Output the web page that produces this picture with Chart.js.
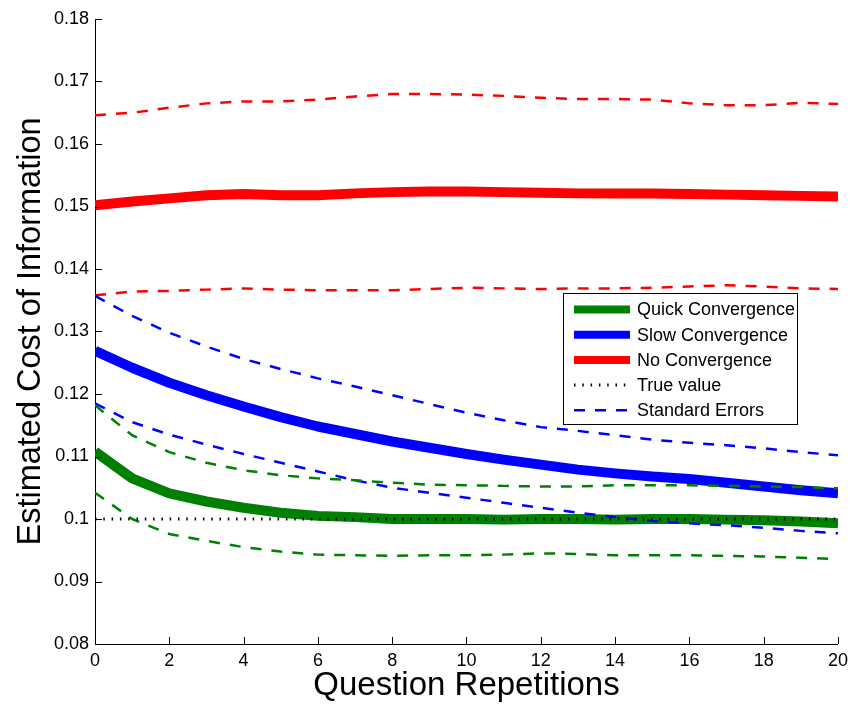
<!DOCTYPE html>
<html>
<head>
<meta charset="utf-8">
<title>Estimated Cost of Information</title>
<script src="https://cdn.jsdelivr.net/npm/chart.js@4/dist/chart.umd.min.js"></script>
<style>
  html, body { margin: 0; padding: 0; background: #ffffff; }
  #wrap { width: 854px; height: 704px; }
</style>
</head>
<body>
<div id="wrap"><canvas id="costChart" width="854" height="704"></canvas></div>
<script>
// 數據
const repetitions = [0, 1, 2, 3, 4, 5, 6, 7, 8, 9, 10, 11, 12, 13, 14, 15, 16, 17, 18, 19, 20];

const quickMean  = [0.1108, 0.1065, 0.1041, 0.1028, 0.1018, 0.1010, 0.1005, 0.1003, 0.1000, 0.1000, 0.1000, 0.0999, 0.1000, 0.1000, 0.0999, 0.1000, 0.1000, 0.0999, 0.0998, 0.0996, 0.0993];
const quickUpper = [0.1182, 0.1134, 0.1107, 0.1090, 0.1078, 0.1070, 0.1065, 0.1062, 0.1058, 0.1055, 0.1054, 0.1053, 0.1052, 0.1052, 0.1054, 0.1054, 0.1054, 0.1053, 0.1052, 0.1051, 0.1049];
const quickLower = [0.1042, 0.1000, 0.0976, 0.0965, 0.0955, 0.0948, 0.0943, 0.0942, 0.0941, 0.0942, 0.0942, 0.0943, 0.0945, 0.0944, 0.0942, 0.0942, 0.0942, 0.0941, 0.0940, 0.0938, 0.0936];

const slowMean  = [0.1269, 0.1242, 0.1218, 0.1198, 0.1180, 0.1163, 0.1148, 0.1136, 0.1124, 0.1114, 0.1104, 0.1095, 0.1087, 0.1079, 0.1073, 0.1068, 0.1064, 0.1058, 0.1052, 0.1046, 0.1041];
const slowUpper = [0.1357, 0.1325, 0.1298, 0.1276, 0.1256, 0.1240, 0.1225, 0.1212, 0.1198, 0.1184, 0.1170, 0.1158, 0.1147, 0.1141, 0.1134, 0.1127, 0.1122, 0.1118, 0.1113, 0.1107, 0.1102];
const slowLower = [0.1185, 0.1155, 0.1135, 0.1119, 0.1104, 0.1090, 0.1076, 0.1062, 0.1050, 0.1042, 0.1034, 0.1026, 0.1018, 0.1010, 0.1003, 0.0997, 0.0993, 0.0990, 0.0986, 0.0981, 0.0977];

const noneMean  = [0.1502, 0.1508, 0.1513, 0.1518, 0.1520, 0.1518, 0.1518, 0.1521, 0.1523, 0.1524, 0.1524, 0.1523, 0.1522, 0.1521, 0.1521, 0.1521, 0.1520, 0.1519, 0.1518, 0.1517, 0.1516];
const noneUpper = [0.1646, 0.1650, 0.1658, 0.1665, 0.1668, 0.1668, 0.1671, 0.1676, 0.1680, 0.1680, 0.1679, 0.1677, 0.1674, 0.1672, 0.1672, 0.1671, 0.1665, 0.1662, 0.1662, 0.1666, 0.1664];
const noneLower = [0.1358, 0.1364, 0.1365, 0.1367, 0.1369, 0.1367, 0.1366, 0.1366, 0.1366, 0.1368, 0.1370, 0.1369, 0.1368, 0.1369, 0.1369, 0.1370, 0.1372, 0.1374, 0.1372, 0.1369, 0.1368];

// 真實值 (水平線的兩個端點)
const trueValueX = [0, 20];
const trueValueY = [0.1, 0.1];

// 刻度
const xTickValues = [0, 2, 4, 6, 8, 10, 12, 14, 16, 18, 20];
const xTickLabels = ['0', '2', '4', '6', '8', '10', '12', '14', '16', '18', '20'];
const yTickValues = [0.08, 0.09, 0.10, 0.11, 0.12, 0.13, 0.14, 0.15, 0.16, 0.17, 0.18];
const yTickLabels = ['0.08', '0.09', '0.1', '0.11', '0.12', '0.13', '0.14', '0.15', '0.16', '0.17', '0.18'];

const FONT = "'Liberation Sans', Arial, Helvetica, sans-serif";
const GREEN = '#008000';
const BLUE = '#0000ff';
const RED = '#ff0000';
const SE_DASH = [11, 10];

function toPoints(xs, ys) {
    return ys.map((y, i) => ({ x: xs[i], y: y }));
}

function makeLine(label, xs, ys, color, width, dash, order) {
    return {
        label: label,
        data: toPoints(xs, ys),
        borderColor: color,
        backgroundColor: color,
        borderWidth: width,
        borderDash: dash,
        borderCapStyle: 'butt',
        borderJoinStyle: 'round',
        pointRadius: 0,
        pointHoverRadius: 0,
        fill: false,
        tension: 0,
        order: order
    };
}

const datasets = [
    makeLine('Quick Convergence', repetitions, quickMean, GREEN, 10, [], 10),
    makeLine('Slow Convergence', repetitions, slowMean, BLUE, 10, [], 10),
    makeLine('No Convergence', repetitions, noneMean, RED, 10, [], 10),
    makeLine('True value', trueValueX, trueValueY, '#000000', 3, [1.5, 6.8], 1),
    makeLine('Standard Errors', repetitions, slowUpper, BLUE, 2.5, SE_DASH, 5),
    makeLine('', repetitions, slowLower, BLUE, 2.5, SE_DASH, 5),
    makeLine('', repetitions, quickUpper, GREEN, 2.5, SE_DASH, 4),
    makeLine('', repetitions, quickLower, GREEN, 2.5, SE_DASH, 4),
    makeLine('', repetitions, noneUpper, RED, 2.5, SE_DASH, 5),
    makeLine('', repetitions, noneLower, RED, 2.5, SE_DASH, 5)
];

// 向內的刻度線
const inwardTicks = {
    id: 'inwardTicks',
    afterDatasetsDraw(chart) {
        const { ctx, chartArea, scales } = chart;
        ctx.save();
        ctx.strokeStyle = '#000000';
        ctx.lineWidth = 1;
        ctx.setLineDash([]);
        ctx.beginPath();
        scales.y.ticks.forEach(t => {
            const py = Math.round(scales.y.getPixelForValue(t.value)) + 0.5;
            ctx.moveTo(chartArea.left, py);
            ctx.lineTo(chartArea.left + 7, py);
        });
        scales.x.ticks.forEach(t => {
            const px = Math.round(scales.x.getPixelForValue(t.value)) + 0.5;
            ctx.moveTo(px, chartArea.bottom);
            ctx.lineTo(px, chartArea.bottom - 7);
        });
        ctx.stroke();
        ctx.restore();
    }
};

// 圖例 (畫在圖表區域內)
const boxLegend = {
    id: 'boxLegend',
    afterDraw(chart) {
        const ctx = chart.ctx;
        const shown = chart.data.datasets.filter(d => d.label);
        const box = { x: 563.5, y: 293.5, w: 234, h: 131 };
        ctx.save();
        ctx.fillStyle = '#ffffff';
        ctx.fillRect(box.x, box.y, box.w, box.h);
        ctx.strokeStyle = '#000000';
        ctx.lineWidth = 1;
        ctx.setLineDash([]);
        ctx.strokeRect(box.x, box.y, box.w, box.h);
        ctx.font = '18px ' + FONT;
        ctx.textBaseline = 'middle';
        ctx.textAlign = 'left';
        shown.forEach((d, i) => {
            const rowY = 309.5 + i * 25.2;
            ctx.beginPath();
            ctx.strokeStyle = d.borderColor;
            ctx.lineWidth = d.borderWidth >= 10 ? 8 : d.borderWidth;
            ctx.setLineDash(d.borderDash || []);
            ctx.lineCap = 'butt';
            ctx.moveTo(574, rowY);
            ctx.lineTo(630, rowY);
            ctx.stroke();
            ctx.setLineDash([]);
            ctx.fillStyle = '#000000';
            ctx.fillText(d.label, 637, rowY + 1);
        });
        ctx.restore();
    }
};

Chart.defaults.font.family = FONT;
Chart.defaults.color = '#000000';

new Chart(document.getElementById('costChart'), {
    type: 'line',
    data: { datasets: datasets },
    plugins: [inwardTicks, boxLegend],
    options: {
        responsive: false,
        animation: false,
        events: [],
        layout: { padding: { top: 19, right: 16, bottom: 0, left: 0 } },
        plugins: {
            legend: { display: false },
            tooltip: { enabled: false }
        },
        scales: {
            x: {
                type: 'linear',
                min: 0,
                max: 20,
                offset: false,
                afterBuildTicks: scale => {
                    scale.ticks = xTickValues.map(v => ({ value: v }));
                },
                afterFit: scale => { scale.height = 60; },
                ticks: {
                    padding: 6,
                    maxRotation: 0,
                    autoSkip: false,
                    font: { size: 18 },
                    callback: value => xTickLabels[xTickValues.indexOf(value)]
                },
                grid: { display: false, drawTicks: false },
                border: { display: true, color: '#000000', width: 1 },
                title: {
                    display: true,
                    text: 'Question Repetitions',
                    font: { size: 33, lineHeight: 1.1 },
                    padding: { top: 0, bottom: 0 }
                }
            },
            y: {
                type: 'linear',
                min: 0.08,
                max: 0.18,
                afterBuildTicks: scale => {
                    scale.ticks = yTickValues.map(v => ({ value: v }));
                },
                afterFit: scale => { scale.width = 95; },
                ticks: {
                    padding: 6,
                    autoSkip: false,
                    font: { size: 18 },
                    callback: value => yTickLabels[yTickValues.findIndex(v => Math.abs(v - value) < 1e-9)]
                },
                grid: { display: false, drawTicks: false },
                border: { display: true, color: '#000000', width: 1 },
                title: {
                    display: true,
                    text: 'Estimated Cost of Information',
                    font: { size: 32.5, lineHeight: 1.1 },
                    padding: { top: 13, bottom: 0 }
                }
            }
        }
    }
});
</script>
</body>
</html>
